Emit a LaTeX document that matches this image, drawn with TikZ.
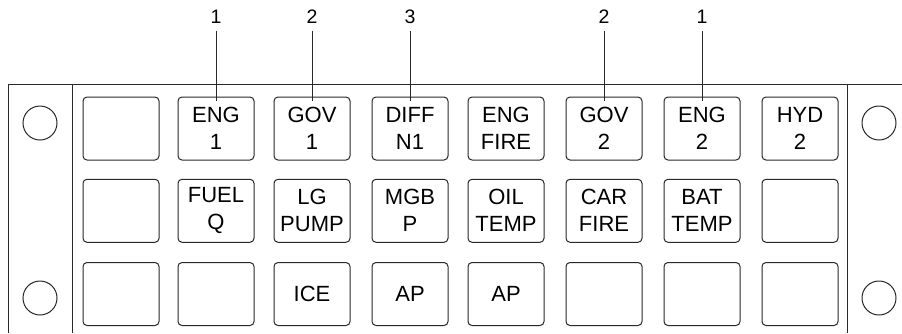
\documentclass[tikz,border=0pt]{standalone}
\usepackage{fontspec}
\setmainfont{Liberation Sans}
\usetikzlibrary{positioning}
\definecolor{PanelLine}{RGB}{40,40,40}

\tikzset{
  btn/.style={draw=PanelLine, line width=1pt, rounded corners=4pt, minimum width=76pt,
    minimum height=63pt, inner sep=0pt, align=center, font=\fontsize{22}{27}\selectfont},
  numlbl/.style={anchor=south, inner sep=7pt, font=\fontsize{19.5}{22}\selectfont},
  frame/.style={draw=PanelLine, line width=1pt}
}

\begin{document}
\begin{tikzpicture}[x=1pt,y=-1pt]
        \useasboundingbox (0,0) rectangle (902,333);
        % panel frame
        \draw[frame] (8,333) -- (8,84) -- (902,84);
        \draw[frame] (72,84) -- (72,333);
        \draw[frame] (847,84) -- (847,333);
        \foreach \cx/\cy in {40/123,40/298,879/123,879/298}
          \draw[frame] (\cx,\cy) circle[radius=17pt];
        % top row
        \foreach \c/\x/\txt in {1/121/{},2/216/{ENG\\1},3/312/{GOV\\1},4/410/{DIFF\\N1},
            5/506/{ENG\\FIRE},6/604/{GOV\\2},7/702/{ENG\\2},8/800/{HYD\\2}}
          \node[btn] (a\c) at (\x,128.5) {\txt};
        % middle row
        \foreach \c/\x/\txt in {1/121/{},2/216/{FUEL\\Q},3/312/{LG\\PUMP},4/410/{MGB\\P},
            5/506/{OIL\\TEMP},6/604/{CAR\\FIRE},7/702/{BAT\\TEMP},8/800/{}}
          \node[btn] (b\c) at (\x,210.8) {\txt};
        % bottom row
        \foreach \c/\x/\txt in {1/121/{},2/216/{},3/312/{ICE},4/410/{AP},
            5/506/{AP},6/604/{},7/702/{},8/800/{}}
          \node[btn] (c\c) at (\x,294) {\txt};
        % callouts
        \foreach \c/\n in {2/1,3/2,4/3,6/2,7/1} {
          \node[numlbl] (n\c) at ([yshift=66pt]a\c.north) {\n};
          \draw[frame] (n\c.south) -- ([yshift=-4.7pt]a\c.north);
        }
      \end{tikzpicture}
\end{document}
